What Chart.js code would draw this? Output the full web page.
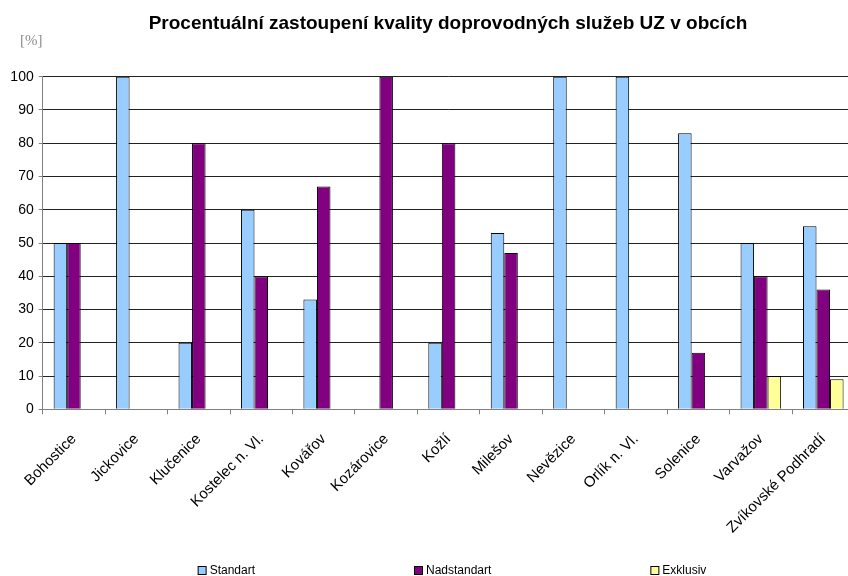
<!DOCTYPE html>
<html>
<head>
<meta charset="utf-8">
<script src="https://cdn.jsdelivr.net/npm/chart.js@4.4.1/dist/chart.umd.min.js"></script>
<style>
  html, body { margin: 0; padding: 0; background: #fff; overflow: hidden; }
  #wrap { width: 896px; height: 576px; position: relative; }
</style>
</head>
<body>
<div id="wrap"><canvas id="c" width="896" height="576"></canvas></div>
<script>
const categories = ["Bohostice", "Jickovice", "Klučenice", "Kostelec n. Vl.", "Kovářov", "Kozárovice", "Kožlí", "Milešov", "Nevězice", "Orlík n. Vl.", "Solenice", "Varvažov", "Zvíkovské Podhradí"];
const standart    = [50, 100, 20, 60, 33, 0, 20, 53, 100, 100, 83, 50, 55];
const nadstandart = [50, 0, 80, 40, 67, 100, 80, 47, 0, 0, 17, 40, 36];
const exklusiv    = [0, 0, 0, 0, 0, 0, 0, 0, 0, 0, 0, 10, 9];
const seriesNames = ["Standart", "Nadstandart", "Exklusiv"];
const yTicks = [0, 10, 20, 30, 40, 50, 60, 70, 80, 90, 100];
const titleText = "Procentuální zastoupení kvality doprovodných služeb UZ v obcích";
const unitText = "[%]";

const colors = ["#99CCFF", "#800080", "#FFFF99"];
const FONT = "'Liberation Sans', Arial, sans-serif";

const decorPlugin = {
  id: 'decor',
  afterDraw(chart) {
    const ctx = chart.ctx;
    ctx.save();
    // title
    ctx.font = "bold 19px " + FONT;
    ctx.fillStyle = '#000';
    ctx.textAlign = 'center';
    ctx.textBaseline = 'alphabetic';
    ctx.fillText(titleText, chart.width / 2, 29);
    // legend
    ctx.font = "12px " + FONT;
    const box = 8, gapBT = 4, gap = 159;
    const items = chart.data.datasets.map(d => ({label: d.label, color: d.backgroundColor, w: ctx.measureText(d.label).width}));
    let total = items.reduce((s, it) => s + box + gapBT + it.w, 0) + gap * (items.length - 1);
    let x = chart.width / 2 + 4 - total / 2;
    const y = 570;
    ctx.textBaseline = 'middle';
    ctx.textAlign = 'left';
    items.forEach(it => {
      ctx.fillStyle = it.color;
      ctx.fillRect(x + 0.5, y - box / 2 + 0.5, box, box);
      ctx.strokeStyle = '#000';
      ctx.lineWidth = 1;
      ctx.strokeRect(x + 0.5, y - box / 2 + 0.5, box, box);
      ctx.fillStyle = '#000';
      ctx.fillText(it.label, x + box + gapBT, y + 1);
      x += box + gapBT + it.w + gap;
    });
    // unit label
    ctx.font = "15px 'Liberation Serif', 'Times New Roman', serif";
    ctx.fillStyle = '#8c8c8c';
    ctx.textAlign = 'left';
    ctx.fillText(unitText, 20, 41);
    ctx.restore();
  }
};

new Chart(document.getElementById('c'), {
  type: 'bar',
  data: {
    labels: categories,
    datasets: [standart, nadstandart, exklusiv].map((vals, i) => ({
      label: seriesNames[i],
      data: vals,
      backgroundColor: colors[i],
      borderColor: '#000',
      borderWidth: 1,
      barPercentage: 1.0,
      categoryPercentage: 0.65
    }))
  },
  options: {
    responsive: false,
    animation: false,
    devicePixelRatio: 1,
    layout: { padding: { left: 0, right: 41.5, top: 76.7, bottom: 0 } },
    plugins: {
      legend: { display: false },
      tooltip: { enabled: false },
      title: { display: false }
    },
    scales: {
      x: {
        offset: true,
        grid: { display: true, drawOnChartArea: false, drawTicks: true, tickLength: 5, color: '#808080', offset: true },
        border: { display: true, color: '#808080', width: 1 },
        ticks: { minRotation: 45, maxRotation: 45, autoSkip: false, color: '#000', font: { family: FONT, size: 15 }, padding: 16 },
        afterFit(scale) { scale.height = 166.7; }
      },
      y: {
        min: 0, max: 100,
        afterBuildTicks(scale) { scale.ticks = yTicks.map(v => ({ value: v })); },
        grid: {
          color: ctx => (ctx.tick && ctx.tick.value === 0) ? '#808080' : '#222',
          tickColor: '#808080',
          tickLength: 4,
          lineWidth: 1
        },
        border: { display: true, color: '#808080', width: 1 },
        ticks: { color: '#000', font: { family: FONT, size: 14 }, padding: 5 },
        afterFit(scale) { scale.width = 42.7; }
      }
    }
  },
  plugins: [decorPlugin]
});
</script>
</body>
</html>
